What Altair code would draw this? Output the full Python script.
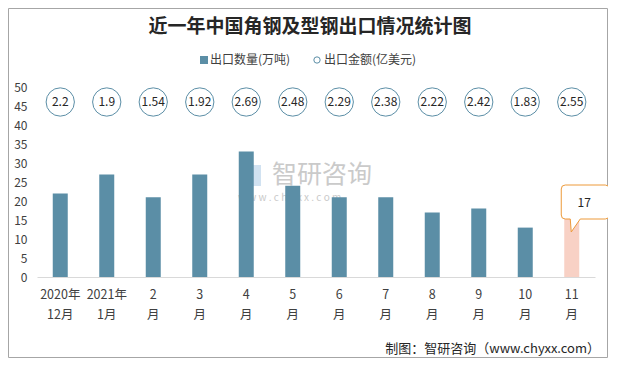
import altair as alt
import pandas as pd

months = ["2020年\n12月", "2021年\n1月", "2\n月", "3\n月", "4\n月", "5\n月",
          "6\n月", "7\n月", "8\n月", "9\n月", "10\n月", "11\n月"]
volume = [22, 27, 21, 27, 33, 24, 21, 21, 17, 18, 13, 17]
amount = [2.2, 1.9, 1.54, 1.92, 2.69, 2.48, 2.29, 2.38, 2.22, 2.42, 1.83, 2.55]
y_ticks = list(range(0, 55, 5))

title_text = "近一年中国角钢及型钢出口情况统计图"
legend_volume = "出口数量(万吨)"
legend_amount = "出口金额(亿美元)"
source_text = "制图：智研咨询（www.chyxx.com）"

FONT = "Noto Sans CJK SC"
BAR = "#5b8ea6"
HIGHLIGHT = "#f8d1c5"
CIRCLE = "#5b8ea6"
ORANGE = "#ed9a3a"

W, H = 558, 190

df = pd.DataFrame({"month": months, "volume": volume, "amount": amount})
df["last"] = [i == len(months) - 1 for i in range(len(months))]
df["amount_label"] = [f"{v:g}" for v in amount]

xaxis = alt.Axis(labelAngle=0, ticks=False, domainColor="#d9d9d9", grid=False,
                 labelExpr="split(datum.label, '\\n')",
                 labelLineHeight=20, labelPadding=11,
                 labelFontSize=12.5, labelColor="#404040",
                 labelFont=FONT, labelOverlap=False)
yaxis = alt.Axis(values=y_ticks, grid=False, ticks=False, domain=False,
                 labelPadding=10, labelFontSize=12, labelColor="#404040",
                 labelFont=FONT, labelOverlap=False)
xscale = alt.Scale(paddingInner=0.0, paddingOuter=0.0)
yscale = alt.Scale(domain=[0, 50], nice=False)


def X():
    return alt.X("month:N", sort=months, title=None, scale=xscale, axis=xaxis)


def Y():
    return alt.Y("volume:Q", title=None, scale=yscale, axis=yaxis)


base = alt.Chart(df)
one = pd.DataFrame({"k": [0]})

frame = alt.Chart(one).mark_rect(fillOpacity=0, stroke="#a6a6a6", strokeWidth=1).encode(
    x=alt.value(-28.5), x2=alt.value(570.5), y=alt.value(-78.5), y2=alt.value(270.5))

# white masks over the plot-area outline (left, top, right edges)
mask_left = alt.Chart(one).mark_rule(color="white", strokeWidth=3).encode(
    x=alt.value(0), y=alt.value(-1), y2=alt.value(H - 1))
mask_right = alt.Chart(one).mark_rule(color="white", strokeWidth=3).encode(
    x=alt.value(W), y=alt.value(-1), y2=alt.value(H - 1))
mask_top = alt.Chart(one).mark_rule(color="white", strokeWidth=3).encode(
    x=alt.value(-1), x2=alt.value(W + 1), y=alt.value(0))

wm_icon = alt.Chart(one).mark_rect(fill="#c5dbee", opacity=0.8).encode(
    x=alt.value(203), x2=alt.value(224), y=alt.value(78), y2=alt.value(99))
wm_text = alt.Chart(pd.DataFrame({"t": ["智研咨询"]})).mark_text(
    font=FONT, fontSize=25, color="#cacaca", align="left", baseline="middle").encode(
    x=alt.value(235), y=alt.value(88), text="t:N")
wm_url = alt.Chart(pd.DataFrame({"t": ["w w w . c h y x x . c o m"]})).mark_text(
    font=FONT, fontSize=10, color="#cacaca", align="left", baseline="middle").encode(
    x=alt.value(201), y=alt.value(111), text="t:N")

bars = base.mark_bar(size=15).encode(
    x=X(), y=Y(),
    color=alt.condition("datum.last", alt.value(HIGHLIGHT), alt.value(BAR)))

circles = base.mark_point(shape="circle", size=800, filled=True, fill="white",
                          stroke=CIRCLE, strokeWidth=1, opacity=1).encode(
    x=X(), y=alt.value(15))
circle_text = base.mark_text(font=FONT, fontSize=12, color="#262626",
                             baseline="middle").encode(
    x=X(), y=alt.value(15), text="amount_label:N")

callout_path = ("M -6.5 -27.4 L 33.5 -27.4 Q 37.5 -27.4 37.5 -23.4 L 37.5 2.6 "
                "Q 37.5 6.6 33.5 6.6 L 8.5 6.6 L -0.5 19.6 L -1.5 6.6 L -6.5 6.6 "
                "Q -10.5 6.6 -10.5 2.6 L -10.5 -23.4 Q -10.5 -27.4 -6.5 -27.4 Z")
last_df = df[df["last"]]
callout = alt.Chart(last_df).mark_point(shape=callout_path, size=4, filled=True,
                                        fill="white", stroke=ORANGE, strokeWidth=1,
                                        opacity=1).encode(x=X(), y=Y())
callout_text = alt.Chart(last_df).mark_text(font=FONT, fontSize=12, color="#262626",
                                            dx=12.5, dy=-9.4, baseline="middle").encode(
    x=X(), y=Y(), text="volume:Q")

title = alt.Chart(pd.DataFrame({"t": [title_text]})).mark_text(
    font=FONT, fontSize=19, fontWeight="bold", color="#262626", baseline="middle").encode(
    x=alt.value(273), y=alt.value(-60), text="t:N")

leg_sq = alt.Chart(one).mark_square(size=64, color=BAR, opacity=1).encode(
    x=alt.value(167), y=alt.value(-27))
leg_t1 = alt.Chart(pd.DataFrame({"t": [legend_volume]})).mark_text(
    font=FONT, fontSize=12, color="#404040", align="left", baseline="middle").encode(
    x=alt.value(173), y=alt.value(-27), text="t:N")
leg_c = alt.Chart(one).mark_point(shape="circle", size=40, stroke=CIRCLE,
                                  strokeWidth=1, opacity=1).encode(
    x=alt.value(280), y=alt.value(-27))
leg_t2 = alt.Chart(pd.DataFrame({"t": [legend_amount]})).mark_text(
    font=FONT, fontSize=12, color="#404040", align="left", baseline="middle").encode(
    x=alt.value(287), y=alt.value(-27), text="t:N")

source = alt.Chart(pd.DataFrame({"t": [source_text]})).mark_text(
    font=FONT, fontSize=13, color="#262626", align="right", baseline="middle").encode(
    x=alt.value(563), y=alt.value(262), text="t:N")

chart = alt.layer(
    frame, mask_left, mask_right, mask_top, wm_icon, wm_text, wm_url, bars,
    circles, circle_text, callout, callout_text,
    title, leg_sq, leg_t1, leg_c, leg_t2, source
).properties(
    width=W, height=H, background="white",
    padding={"left": 29, "top": 79, "right": 13, "bottom": 81},
    autosize=alt.AutoSizeParams(type="none"),
    view=alt.ViewBackground(stroke=None, strokeWidth=0),
).configure_view(stroke=None, strokeWidth=0).configure_axisY(domain=False, grid=False)

chart.save("out.html", embed_options={"renderer": "svg", "actions": False})
